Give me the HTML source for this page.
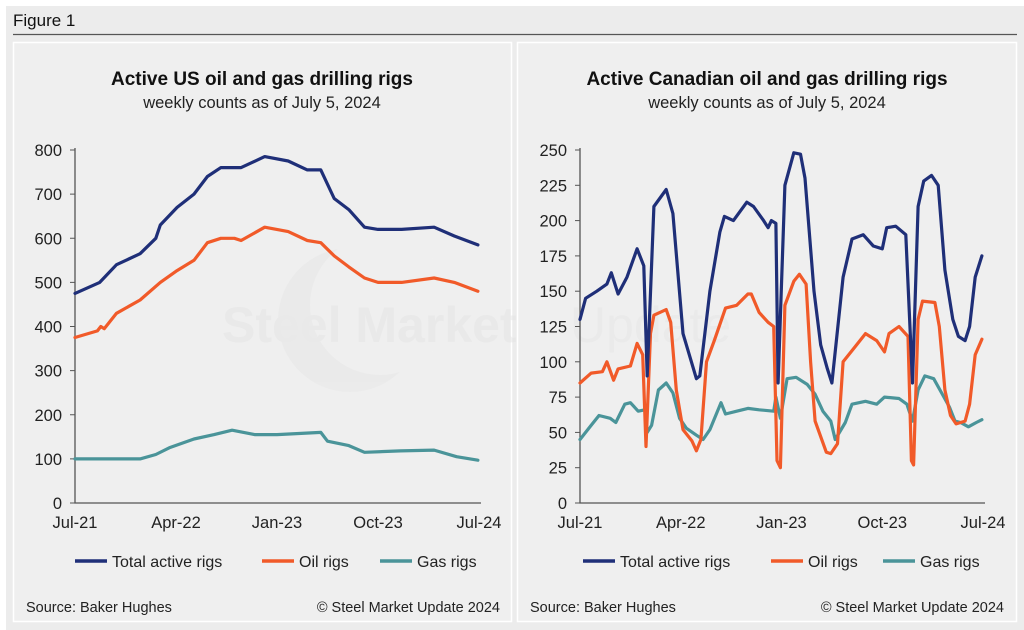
<!DOCTYPE html>
<html><head><meta charset="utf-8"><style>
html,body{margin:0;padding:0;background:#fff;}
svg{display:block;font-family:"Liberation Sans",sans-serif;}
</style></head><body>
<svg id="fig" width="1024" height="630" xmlns="http://www.w3.org/2000/svg">
<rect x="6" y="6" width="1018" height="624" fill="#ececec"/>
<text x="13" y="26" font-size="17" fill="#111">Figure 1</text>
<line x1="13" y1="34.5" x2="1017" y2="34.5" stroke="#555" stroke-width="1.2"/>
<rect x="13.5" y="42.5" width="498" height="579" fill="#efefef" stroke="#fff" stroke-width="1.5"/>
<rect x="517.5" y="42.5" width="499" height="579" fill="#efefef" stroke="#fff" stroke-width="1.5"/>
<g id="wm" opacity="0.45">
<circle cx="350" cy="320" r="72" fill="#e6e6e6"/>
<circle cx="380" cy="305" r="70" fill="#efefef"/>
<text x="222" y="342" font-size="50" font-weight="bold" fill="#e2e2e2">Steel Market</text>
<text x="570" y="342" font-size="50" fill="#e5e5e5">Update</text>
</g>
<g id="charts"></g>
</svg>
<script>
// ---- US chart data (x in months since Jul-21) ----
const usTotalX=[0,2.2,3.7,5.8,7.2,7.6,9.1,10.6,11.8,13,14.8,16.9,19,20.7,21.9,23.1,24.4,25.8,27,29.1,32,33.8,35.9];
const usTotalY=[475,500,540,565,600,630,670,700,740,760,760,785,775,755,755,690,665,625,620,620,625,605,585];
const usOilX=[0,2,2.3,2.6,3.7,5.8,7.6,9,10.6,11.8,13,14.2,14.8,16.9,19,20.7,21.9,23.1,24.4,25.8,27,29.1,32,33.8,35.9];
const usOilY=[375,390,400,395,430,460,500,525,550,590,600,600,595,625,615,595,590,560,535,510,500,500,510,500,480];
const usGasX=[0,2,5.8,7.2,8.4,10.6,12.4,14,16,18,21.9,22.5,24.4,25.8,29,32,34,35.9];
const usGasY=[100,100,100,110,125,145,155,165,155,155,160,140,130,115,118,120,105,97];
// ---- Canada chart data ----
const caTotalX=[0,0.5,1.5,2.4,2.8,3.4,4.2,5.1,5.7,6.0,6.6,7.7,8.3,9.2,10.4,10.7,11.6,12.5,12.9,13.7,14.9,15.5,16.4,16.8,17.1,17.5,17.7,18.3,19.1,19.7,20.1,20.9,21.5,22.1,22.5,23.5,24.3,25.3,26.2,27,27.4,28.2,29.1,29.7,30.2,30.7,31.4,32,32.6,33.3,33.8,34.4,34.8,35.3,35.9];
const caTotalY=[130,145,150,155,163,148,160,180,168,90,210,222,205,120,88,90,150,192,203,200,213,210,200,195,200,198,85,225,248,247,230,150,112,95,85,160,187,190,182,180,195,196,190,85,210,228,232,225,165,130,118,115,125,160,175];
const caOilX=[0,1,2,2.4,3,3.4,4.5,5.1,5.6,5.9,6.3,6.6,7.7,8.1,8.6,9.2,10,10.4,10.8,11.3,12,13,14,15,15.3,16,16.8,17.3,17.6,17.9,18.3,19.1,19.6,20.2,20.6,21,22,22.4,23,23.5,24.5,25.5,26.5,27.2,27.6,28.5,29.3,29.6,29.8,30.2,30.6,31.7,32.1,32.6,33.1,33.6,34.4,34.8,35.3,35.9];
const caOilY=[85,92,93,100,87,95,97,113,105,40,120,133,137,128,80,52,44,37,45,100,115,138,140,148,148,135,128,125,30,25,140,157,162,155,100,58,36,35,42,100,110,120,115,107,120,125,118,30,27,130,143,142,125,80,62,56,58,70,105,116];
const caGasX=[0,1,1.7,2.7,3.2,4,4.5,5.2,5.8,6.0,6.4,7,7.7,8.3,8.9,9.5,10.4,11,11.6,12.6,13,14,15,16,17.3,17.5,17.9,18.5,19.3,20.3,21,21.7,22.4,22.8,23.7,24.3,25.5,26.5,27.2,28.5,29.2,29.7,30.2,30.8,31.6,32.3,33,33.5,34,34.7,35.4,35.9];
const caGasY=[45,55,62,60,57,70,71,65,66,50,55,80,85,78,60,53,48,45,52,71,63,65,67,66,65,75,60,88,89,84,77,65,58,45,57,70,72,70,75,74,70,58,80,90,88,78,68,58,57,54,57,59];
const xTickLabels=["Jul-21","Apr-22","Jan-23","Oct-23","Jul-24"];
const xTickMonths=[0,9,18,27,36];
const usYTicks=[0,100,200,300,400,500,600,700,800];
const caYTicks=[0,25,50,75,100,125,150,175,200,225,250];

const NS="http://www.w3.org/2000/svg";
const root=document.getElementById('charts');
function mk(tag,attrs,parent){const e=document.createElementNS(NS,tag);for(const k in attrs)e.setAttribute(k,attrs[k]);(parent||root).appendChild(e);return e;}
const COL={total:"#1f2f78",oil:"#f15a29",gas:"#4a9499"};

function chart(cfg){
  const g=mk('g',{});
  
  
  const x0=cfg.x0,x1=cfg.x1,yb=503,yt=150;
  const X=m=>x0+m*(x1-x0)/36;
  const Y=v=>yb-v*(yb-yt)/cfg.ymax;
  let t=mk('text',{x:cfg.cx,y:85,'font-size':19,'font-weight':'bold','text-anchor':'middle',fill:'#111'},g);
  t.textContent=cfg.title;
  
  
  t=mk('text',{x:cfg.cx,y:108,'font-size':16.5,'text-anchor':'middle',fill:'#222'},g);
  t.textContent="weekly counts as of July 5, 2024";
  
  
  cfg.yticks.forEach(v=>{
    const l=mk('line',{x1:x0-5,x2:x0,y1:Y(v),y2:Y(v),stroke:'#555','stroke-width':1},g);
    
    
    const tx=mk('text',{x:x0-13,y:Y(v)+6,'font-size':16.5,'text-anchor':'end',fill:'#222'},g);
    tx.textContent=v;
    
    
  });
  const ax=mk('path',{d:`M${x0},${yt-2}V${yb}H${x1+2}`,fill:'none',stroke:'#555','stroke-width':1.3},g);
  
  
  xTickLabels.forEach((lab,i)=>{
    const tx=mk('text',{x:X(xTickMonths[i]),y:528,'font-size':16.5,'text-anchor':'middle',fill:'#222'},g);
    tx.textContent=lab;
    
    
  });
  cfg.series.forEach(s=>{
    const d=s.x.map((m,i)=>(i?'L':'M')+X(m).toFixed(1)+','+Y(s.y[i]).toFixed(1)).join('');
    const p=mk('path',{d:d,fill:'none',stroke:s.c,'stroke-width':3.2,'stroke-linejoin':'round','stroke-linecap':'round'},g);
    
    
  });
  const lx=cfg.leg;
  [["Total active rigs",COL.total,0],["Oil rigs",COL.oil,1],["Gas rigs",COL.gas,2]].forEach(([lab,c,i])=>{
    const l=mk('line',{x1:lx[i],x2:lx[i]+32,y1:561,y2:561,stroke:c,'stroke-width':3.5},g);
    
    
    const tx=mk('text',{x:lx[i]+37,y:567,'font-size':16,fill:'#222'},g);
    tx.textContent=lab;
    
    
  });
  let s1=mk('text',{x:cfg.px+13,y:612,'font-size':14.5,fill:'#222'},g);
  s1.textContent="Source: Baker Hughes";
  
  
  s1=mk('text',{x:cfg.px+487,y:612,'font-size':14.5,'text-anchor':'end',fill:'#222'},g);
  s1.textContent="© Steel Market Update 2024";
  
  
}
chart({name:'us-rigs-chart',title:'Active US oil and gas drilling rigs',cx:262,x0:75,x1:479,ymax:800,yticks:usYTicks,leg:[75,262,380],px:13,
  series:[{x:usGasX,y:usGasY,c:COL.gas,n:'us-gas-line'},{x:usOilX,y:usOilY,c:COL.oil,n:'us-oil-line'},{x:usTotalX,y:usTotalY,c:COL.total,n:'us-total-line'}]});
chart({name:'canada-rigs-chart',title:'Active Canadian oil and gas drilling rigs',cx:767,x0:580,x1:983,ymax:250,yticks:caYTicks,leg:[583,771,883],px:517,
  series:[{x:caGasX,y:caGasY,c:COL.gas,n:'ca-gas-line'},{x:caOilX,y:caOilY,c:COL.oil,n:'ca-oil-line'},{x:caTotalX,y:caTotalY,c:COL.total,n:'ca-total-line'}]});
</script>
</body></html>
